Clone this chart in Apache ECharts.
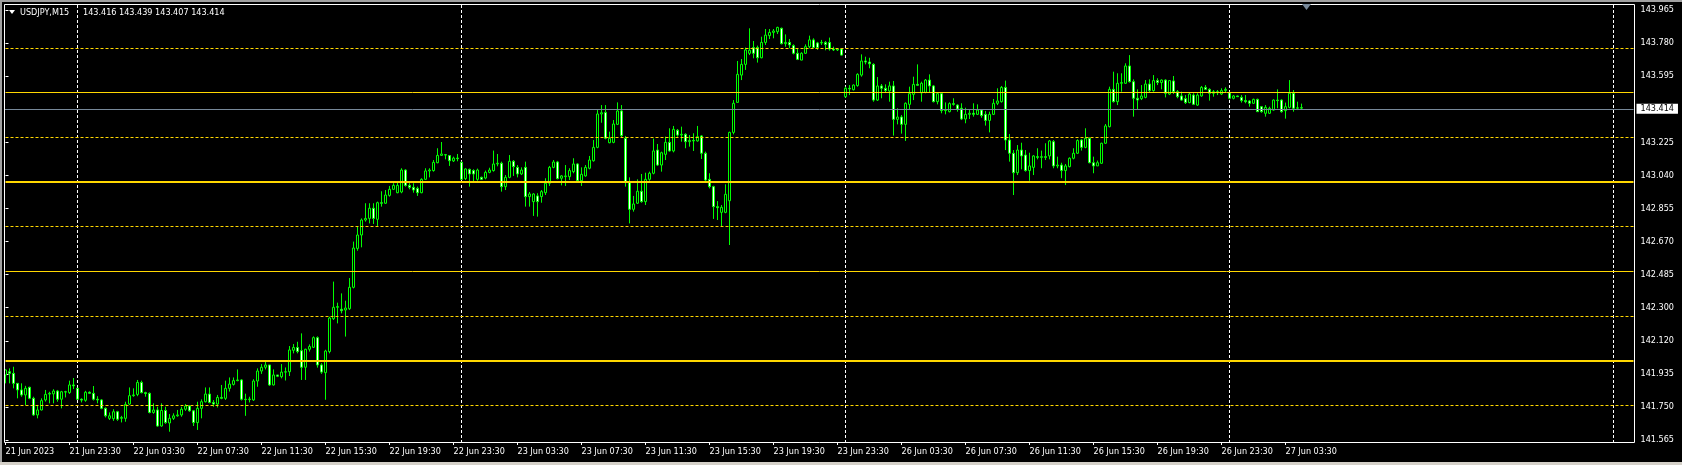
<!DOCTYPE html>
<html><head><meta charset="utf-8">
<script src="https://cdn.jsdelivr.net/npm/echarts@6/dist/echarts.min.js"></script>
<style>html,body{margin:0;padding:0;background:#000;overflow:hidden}#c{width:1682px;height:465px}</style>
</head><body><div id="c"></div><script>
const symbolName = 'USDJPY,M15';
const xTickLabels = ['21 Jun 2023','21 Jun 23:30','22 Jun 03:30','22 Jun 07:30','22 Jun 11:30','22 Jun 15:30','22 Jun 19:30','22 Jun 23:30','23 Jun 03:30','23 Jun 07:30','23 Jun 11:30','23 Jun 15:30','23 Jun 19:30','23 Jun 23:30','26 Jun 03:30','26 Jun 07:30','26 Jun 11:30','26 Jun 15:30','26 Jun 19:30','26 Jun 23:30','27 Jun 03:30'];
const yTickLabels = ['141.565','141.750','141.935','142.120','142.300','142.485','142.670','142.855','143.040','143.225','','143.595','143.780','143.965'];
const barsPerLabel = 16;
const totalSlots = 408;
const dayStartBars = [18,114,210,306,402];
const thickLevels = [143.0,142.0];
const thinLevels = [143.5,142.5];
const dashLevels = [143.75,143.25,142.75,142.25,141.75];
const priceMin = 141.5434, priceMax = 143.9916;

const opens = [141.919,141.937,141.928,141.872,141.835,141.807,141.850,141.788,141.695,141.723,
141.779,141.812,141.813,141.829,141.783,141.825,141.820,141.863,141.844,141.783,
141.777,141.822,141.816,141.783,141.779,141.732,141.676,141.674,141.713,141.676,
141.676,141.756,141.803,141.810,141.877,141.820,141.816,141.709,141.723,141.633,
141.720,141.650,141.676,141.690,141.695,141.727,141.745,141.718,141.652,141.732,
141.769,141.812,141.765,141.756,141.793,141.788,141.844,141.866,141.887,141.891,
141.783,141.781,141.779,141.885,141.941,141.962,141.975,141.863,141.919,141.909,
141.935,141.937,142.057,142.073,142.055,141.962,142.063,142.074,142.128,141.975,
141.932,142.050,142.234,142.298,142.287,142.283,142.290,142.410,142.628,142.703,
142.787,142.796,142.853,142.791,142.884,142.881,142.925,142.959,142.940,142.944,
143.067,142.981,142.970,142.964,142.940,143.015,143.062,143.064,143.108,143.149,
143.153,143.148,143.118,143.134,143.110,143.019,143.071,143.064,143.015,143.026,
143.022,143.054,143.064,143.101,143.105,142.974,143.026,143.116,143.082,143.045,
143.082,142.918,142.890,142.922,142.918,142.940,142.993,143.082,143.112,143.021,
143.030,143.030,143.058,143.101,143.007,143.034,143.077,143.119,143.194,143.381,
143.390,143.220,143.222,143.323,143.398,143.245,143.002,142.847,142.881,142.948,
142.890,143.015,143.049,143.179,143.095,143.155,143.222,143.174,143.290,143.263,
143.267,143.226,143.233,143.230,143.258,143.161,143.015,142.974,142.862,142.830,
142.830,142.895,143.278,143.446,143.599,143.659,143.721,143.753,143.753,143.696,
143.782,143.820,143.838,143.842,143.861,143.775,143.782,143.764,143.721,143.683,
143.721,143.758,143.796,143.779,143.779,143.782,143.782,143.745,143.740,143.745,
143.478,143.525,143.517,143.540,143.599,143.678,143.672,143.659,143.459,143.538,
143.525,143.510,143.538,143.351,143.364,143.323,143.435,143.491,143.547,143.499,
143.502,143.571,143.538,143.450,143.495,143.400,143.394,143.439,143.431,143.413,
143.353,143.379,143.385,143.379,143.403,143.379,143.345,143.379,143.441,143.450,
143.530,143.235,143.161,143.052,143.179,143.151,143.064,143.082,143.142,143.138,
143.142,143.146,143.226,143.090,143.095,143.064,143.086,143.133,143.161,143.235,
143.194,143.245,143.108,143.090,143.105,143.217,143.310,143.519,143.450,143.553,
143.553,143.650,143.562,143.469,143.467,143.474,143.549,143.512,143.568,143.557,
143.571,143.493,143.566,143.506,143.482,143.467,143.445,143.487,143.431,143.482,
143.530,143.519,143.497,143.506,143.493,143.512,143.500,143.469,143.482,143.474,
143.456,143.454,143.441,143.463,143.422,143.385,143.385,143.403,143.459,143.459,
143.400,143.418,143.497,143.413,143.416];
const highs = [141.950,141.956,141.965,141.872,141.872,141.858,141.853,141.797,141.751,141.788,
141.835,141.825,141.839,141.835,141.830,141.830,141.887,141.902,141.844,141.788,
141.830,141.827,141.857,141.800,141.783,141.737,141.709,141.727,141.718,141.690,
141.769,141.849,141.844,141.891,141.887,141.825,141.821,141.760,141.741,141.760,
141.741,141.700,141.704,141.723,141.741,141.756,141.750,141.723,141.769,141.782,
141.849,141.849,141.778,141.807,141.863,141.887,141.905,141.905,141.950,141.895,
141.814,141.797,141.895,141.956,141.980,141.993,141.975,141.950,141.919,141.980,
141.961,142.081,142.092,142.105,142.152,142.066,142.090,142.135,142.135,141.985,
142.060,142.245,142.442,142.324,142.376,142.335,142.462,142.666,142.750,142.796,
142.881,142.881,142.881,142.890,142.948,142.955,142.978,142.993,143.002,143.077,
143.071,142.993,142.993,142.974,143.021,143.077,143.077,143.123,143.189,143.224,
143.157,143.151,143.142,143.157,143.114,143.077,143.075,143.071,143.075,143.030,
143.064,143.080,143.176,143.157,143.114,143.039,143.151,143.123,143.095,143.082,
143.114,142.944,142.937,142.937,142.955,143.021,143.090,143.123,143.118,143.039,
143.095,143.077,143.133,143.105,143.082,143.095,143.146,143.235,143.403,143.431,
143.431,143.282,143.347,143.446,143.431,143.258,143.026,142.922,143.015,143.045,
143.052,143.058,143.243,143.213,143.170,143.254,143.301,143.314,143.297,143.310,
143.273,143.263,143.273,143.314,143.263,143.170,143.049,142.979,142.893,142.871,
142.987,143.282,143.459,143.678,143.689,143.753,143.861,143.790,143.764,143.814,
143.857,143.857,143.857,143.870,143.865,143.827,143.801,143.771,143.749,143.727,
143.771,143.820,143.805,143.785,143.796,143.790,143.809,143.758,143.749,143.749,
143.534,143.543,143.547,143.609,143.715,143.702,143.696,143.665,143.588,143.549,
143.547,143.562,143.566,143.413,143.375,143.446,143.534,143.590,143.659,143.562,
143.577,143.603,143.543,143.497,143.500,143.446,143.446,143.469,143.435,143.441,
143.416,143.403,143.441,143.435,143.409,143.398,143.394,143.465,143.525,143.538,
143.568,143.269,143.179,143.207,143.220,143.179,143.164,143.151,143.189,143.176,
143.217,143.235,143.235,143.142,143.108,143.101,143.138,143.189,143.239,143.239,
143.301,143.250,143.142,143.120,143.220,143.325,143.534,143.618,143.609,143.609,
143.665,143.711,143.575,143.519,143.543,143.571,143.575,143.599,143.581,143.575,
143.575,143.571,143.594,143.515,143.506,143.487,143.500,143.497,143.497,143.538,
143.543,143.525,143.515,143.515,143.525,143.530,143.506,143.487,143.484,143.487,
143.487,143.459,143.467,143.467,143.426,143.431,143.422,143.463,143.519,143.463,
143.445,143.571,143.515,143.450,143.439];
const lows = [141.872,141.872,141.844,141.788,141.797,141.750,141.783,141.690,141.676,141.720,
141.770,141.760,141.760,141.769,141.732,141.793,141.813,141.840,141.779,141.765,
141.769,141.814,141.776,141.760,141.727,141.681,141.667,141.662,141.662,141.653,
141.657,141.750,141.797,141.800,141.816,141.797,141.704,141.702,141.629,141.629,
141.645,141.601,141.667,141.685,141.685,141.718,141.713,141.633,141.611,141.676,
141.765,141.760,141.741,141.737,141.783,141.779,141.826,141.860,141.884,141.776,
141.690,141.765,141.774,141.853,141.925,141.950,141.858,141.860,141.907,141.900,
141.888,141.913,142.040,142.040,141.891,141.891,142.050,142.070,141.960,141.925,
141.780,142.040,142.227,142.208,142.264,142.134,142.283,142.404,142.615,142.634,
142.778,142.768,142.765,142.754,142.862,142.877,142.918,142.955,142.937,142.937,
142.974,142.959,142.940,142.922,142.937,143.011,143.026,143.058,143.105,143.146,
143.127,143.090,143.112,143.116,143.011,143.011,142.974,143.002,143.007,143.011,
143.015,143.049,143.058,143.088,142.946,142.955,143.021,143.034,143.026,143.039,
142.862,142.862,142.810,142.806,142.884,142.927,142.978,143.077,143.015,142.981,
142.978,143.011,143.049,143.002,142.978,143.030,143.071,143.114,143.189,143.332,
143.239,143.217,143.217,143.319,143.250,142.974,142.768,142.834,142.877,142.884,
142.871,143.007,143.043,143.090,143.058,143.123,143.170,143.166,143.254,143.226,
143.189,143.198,143.174,143.226,143.129,143.002,142.964,142.793,142.787,142.750,
142.825,142.647,143.267,143.446,143.571,143.628,143.711,143.693,143.669,143.693,
143.768,143.801,143.805,143.829,143.771,143.758,143.749,143.715,143.683,143.682,
143.717,143.749,143.749,143.740,143.768,143.738,143.736,143.734,143.734,143.708,
143.472,143.487,143.513,143.534,143.590,143.659,143.637,143.450,143.454,143.469,
143.502,143.450,143.260,143.323,143.271,143.230,143.403,143.459,143.540,143.450,
143.497,143.502,143.446,143.435,143.385,143.379,143.390,143.428,143.394,143.347,
143.329,143.353,143.366,143.375,143.360,143.316,143.278,143.375,143.431,143.445,
143.179,143.114,142.927,143.039,143.071,143.058,143.007,143.039,143.127,143.077,
143.123,143.127,143.077,143.077,143.021,142.983,143.082,143.127,143.157,143.176,
143.189,143.105,143.049,143.090,143.101,143.213,143.306,143.445,143.431,143.506,
143.549,143.557,143.366,143.407,143.459,143.469,143.500,143.506,143.543,143.519,
143.474,143.487,143.493,143.469,143.456,143.437,143.441,143.431,143.426,143.478,
143.515,143.456,143.478,143.487,143.487,143.500,143.463,143.463,143.476,143.445,
143.441,143.422,143.437,143.392,143.388,143.366,143.381,143.400,143.413,143.388,
143.355,143.413,143.394,143.403,143.407];
const closes = [141.947,141.928,141.872,141.835,141.807,141.844,141.788,141.695,141.723,141.775,
141.810,141.816,141.829,141.783,141.825,141.823,141.863,141.858,141.783,141.778,
141.822,141.816,141.783,141.779,141.732,141.690,141.690,141.713,141.671,141.681,
141.754,141.803,141.807,141.877,141.820,141.815,141.709,141.723,141.633,141.720,
141.652,141.676,141.690,141.695,141.727,141.745,141.718,141.652,141.732,141.769,
141.812,141.765,141.756,141.793,141.788,141.844,141.868,141.887,141.891,141.783,
141.781,141.784,141.885,141.941,141.962,141.975,141.863,141.919,141.912,141.935,
141.937,142.059,142.073,142.050,141.962,142.063,142.078,142.128,141.975,141.935,
142.053,142.238,142.298,142.302,142.279,142.294,142.410,142.630,142.703,142.787,
142.796,142.853,142.796,142.884,142.881,142.927,142.959,142.981,142.981,143.067,
142.981,142.970,142.955,142.940,143.015,143.062,143.067,143.110,143.149,143.157,
143.151,143.119,143.134,143.131,143.015,143.073,143.045,143.045,143.067,143.015,
143.054,143.067,143.101,143.105,142.974,143.026,143.116,143.086,143.045,143.067,
142.918,142.933,142.933,142.890,142.946,142.993,143.082,143.112,143.019,143.034,
143.034,143.064,143.101,143.007,143.043,143.082,143.123,143.194,143.381,143.388,
143.245,143.245,143.325,143.398,143.260,143.002,142.847,142.877,142.948,142.890,
143.015,143.049,143.174,143.095,143.164,143.222,143.174,143.295,143.263,143.267,
143.226,143.233,143.230,143.254,143.161,143.011,142.974,142.862,142.856,142.858,
142.931,143.278,143.441,143.603,143.659,143.740,143.738,143.721,143.696,143.782,
143.823,143.838,143.846,143.866,143.775,143.782,143.768,143.721,143.687,143.721,
143.758,143.796,143.753,143.753,143.782,143.771,143.745,143.740,143.745,143.711,
143.525,143.521,143.543,143.603,143.678,143.672,143.662,143.459,143.538,143.525,
143.513,143.538,143.351,143.364,143.323,143.441,143.495,143.547,143.542,143.553,
143.571,143.538,143.450,143.495,143.400,143.405,143.439,143.435,143.409,143.353,
143.379,143.385,143.379,143.403,143.372,143.345,143.379,143.441,143.454,143.530,
143.235,143.161,143.052,143.179,143.146,143.064,143.090,143.146,143.138,143.142,
143.138,143.230,143.090,143.095,143.064,143.090,143.133,143.161,143.232,143.194,
143.245,143.108,143.090,143.108,143.217,143.314,143.519,143.450,143.553,143.557,
143.650,143.562,143.469,143.459,143.482,143.549,143.512,143.568,143.557,143.571,
143.497,143.568,143.506,143.478,143.459,143.445,143.493,143.435,143.487,143.530,
143.519,143.497,143.506,143.500,143.512,143.519,143.469,143.482,143.478,143.456,
143.450,143.441,143.463,143.394,143.394,143.418,143.413,143.459,143.456,143.394,
143.422,143.497,143.413,143.416,143.414];

const FONT = "'DejaVu Sans Condensed', 'DejaVu Sans', sans-serif";
const categories = [];
for (let i = 0; i < totalSlots; i++) categories.push(i);
const candles = opens.map((o, i) => [o, closes[i], lows[i], highs[i]]);
const last = opens.length - 1;
const bid = closes[last];
const header = [opens[last], highs[last], lows[last], closes[last]].map(v => v.toFixed(3)).join(' ');

const levelLines = [];
thickLevels.forEach(v => levelLines.push({yAxis: v, lineStyle: {color: '#FFD700', width: 2, type: 'solid'}}));
thinLevels.forEach(v => levelLines.push({yAxis: v, lineStyle: {color: '#FFD700', width: 1, type: 'solid'}}));
dashLevels.forEach(v => levelLines.push({yAxis: v, lineStyle: {color: '#FFD700', width: 1, type: [3, 2]}}));
levelLines.push({yAxis: bid, lineStyle: {color: '#778899', width: 1, type: 'solid'},
  label: {show: true, position: 'end', distance: 3, formatter: bid.toFixed(3), backgroundColor: '#fff', color: '#000',
    padding: [1, 4, 0, 4], fontSize: 9, fontFamily: FONT}});

const labelIdx = (i) => i % barsPerLabel === 0 && i / barsPerLabel < xTickLabels.length;
const dayIdx = (i) => dayStartBars.indexOf(i) >= 0;

const chart = echarts.init(document.getElementById('c'), null, {renderer: 'canvas'});
chart.setOption({
  animation: false,
  backgroundColor: '#000',
  grid: [
    {left: 5.5, right: 48.5, top: 5, bottom: 23, show: false},
    {left: 5.5, right: 48.5, top: 10, bottom: 25, show: false}
  ],
  xAxis: [
    {type: 'category', gridIndex: 0, data: categories, boundaryGap: false,
      axisLine: {show: false},
      axisTick: {show: true, interval: labelIdx, length: 3, lineStyle: {color: '#fff'}},
      axisLabel: {show: true, interval: labelIdx, align: 'left', margin: 5, color: '#fff', fontSize: 9, fontFamily: FONT,
        formatter: (v, idx) => xTickLabels[Math.round(idx / barsPerLabel)] || ''},
      splitLine: {show: true, interval: dayIdx, lineStyle: {color: '#fff', width: 1, type: [3, 2]}}},
    {type: 'value', gridIndex: 1, show: false, min: 0, max: 1}
  ],
  yAxis: [
    {type: 'value', gridIndex: 0, min: priceMin, max: priceMax, show: false, splitLine: {show: false}},
    {type: 'value', gridIndex: 1, min: 0, max: yTickLabels.length - 1, interval: 1, position: 'right',
      axisLine: {show: false},
      axisTick: {show: true, length: 3, lineStyle: {color: '#fff'}},
      axisLabel: {show: true, margin: 7, color: '#fff', fontSize: 9, fontFamily: FONT,
        formatter: (v) => yTickLabels[Math.round(v)] || ''},
      splitLine: {show: false}}
  ],
  series: [{
    type: 'candlestick', xAxisIndex: 0, yAxisIndex: 0, data: candles, barWidth: 2,
    itemStyle: {color: '#000', color0: '#fff', borderColor: '#00ff00', borderColor0: '#00ff00', borderColorDoji: '#00ff00', borderWidth: 1},
    markLine: {silent: true, symbol: ['none', 'none'], animation: false, label: {show: false}, data: levelLines}
  }],
  graphic: [
    {type: 'rect', shape: {x: 0, y: 0, width: 1682, height: 2}, style: {fill: '#a0a0a0'}, silent: true},
    {type: 'rect', shape: {x: 0, y: 0, width: 2, height: 465}, style: {fill: '#a0a0a0'}, silent: true},
    {type: 'rect', shape: {x: 0, y: 462, width: 1682, height: 3}, style: {fill: '#d4d0c8'}, silent: true},
    {type: 'rect', shape: {x: 4.5, y: 4.5, width: 1630, height: 438}, style: {fill: null, stroke: '#fff', lineWidth: 1}, silent: true, z: 100},
    {type: 'polygon', shape: {points: [[1302, 4], [1311, 4], [1306.5, 10]]}, style: {fill: '#778899'}, silent: true, z: 101},
    {type: 'polygon', shape: {points: [[9, 10], [15, 10], [12, 14]]}, style: {fill: '#fff'}, silent: true, z: 101},
    {type: 'text', x: 20, y: 8, style: {text: symbolName, fill: '#fff', font: '9px ' + FONT}, silent: true, z: 101},
    {type: 'text', x: 83, y: 8, style: {text: header, fill: '#fff', font: '9px ' + FONT}, silent: true, z: 101}
  ]
});
</script></body></html>
